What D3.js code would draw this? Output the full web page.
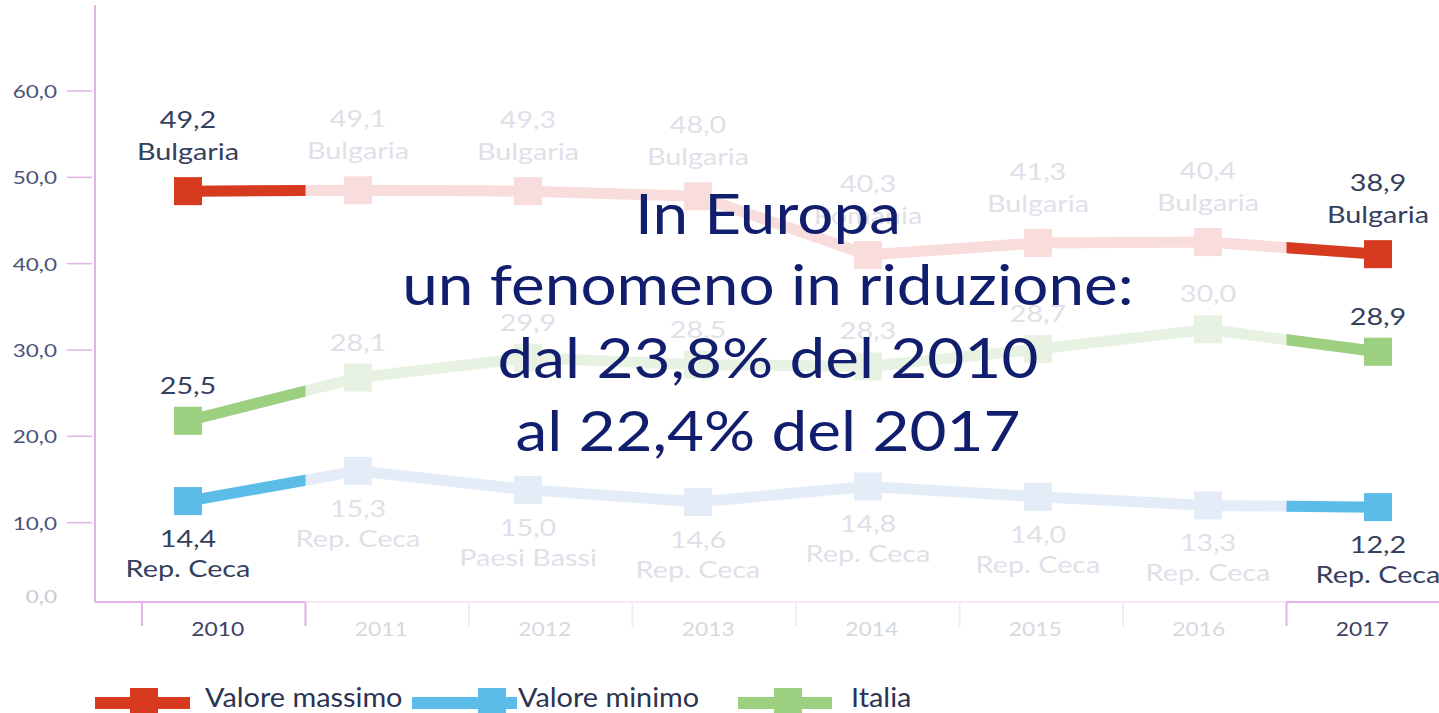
<!DOCTYPE html>
<html><head><meta charset="utf-8">
<script src="https://cdn.jsdelivr.net/npm/d3@7"></script>
<style>
html,body{margin:0;padding:0;background:#fff;}
svg{display:block;font-family:Lato,"Open Sans",sans-serif;}
</style></head>
<body>
<svg id="chart" width="1439" height="713"></svg>
<script>
const years = ['2010','2011','2012','2013','2014','2015','2016','2017'];
// values shown in labels
const maxValues = [49.2,49.1,49.3,48.0,40.3,41.3,40.4,38.9];
const maxCountries = ['Bulgaria','Bulgaria','Bulgaria','Bulgaria','Romania','Bulgaria','Bulgaria','Bulgaria'];
const minValues = [14.4,15.3,15.0,14.6,14.8,14.0,13.3,12.2];
const minCountries = ['Rep. Ceca','Rep. Ceca','Paesi Bassi','Rep. Ceca','Rep. Ceca','Rep. Ceca','Rep. Ceca','Rep. Ceca'];
const italyValues = [25.5,28.1,29.9,28.5,28.3,28.7,30.0,28.9];
// heights at which the marks are drawn in the picture
const maxPlot = [48.4,48.5,48.4,47.8,41.0,42.4,42.5,41.1];
const minPlot = [12.5,16.0,13.8,12.4,14.2,13.0,12.0,11.8];
const italyPlot = [21.8,26.8,29.1,28.3,28.1,30.1,32.4,29.8];
const yTicks = [0,10,20,30,40,50,60];
const highlightYears = ['2010','2017'];
const legendLabels = ['Valore massimo','Valore minimo','Italia'];
const titleLines = ['In Europa','un fenomeno in riduzione:','dal 23,8% del 2010','al 22,4% del 2017'];

const C = {
  red:'#d63a1f', redF:'#f9dcdc',
  blue:'#5bbce8', blueF:'#e3ecf7',
  green:'#9ccf80', greenF:'#e8f2e2',
  label:'#34405e', labelF:'#dfe0e8',
  axis:'#e4b1ea', axisF:'#f8e8f8',
  title:'#111d6d'
};

const it = d3.formatLocale({decimal:',',thousands:'.',grouping:[3],currency:['','€']});
const fmt = it.format('.1f');

const svg = d3.select('#chart');
const y = d3.scaleLinear().domain([0,60]).range([609,91]);
const xp = d3.scalePoint().domain(years).range([188,1378]);
const xb = d3.scaleBand().domain(years).range([142,1450]).padding(0);
const baseY = 602;
const axisX = 95;

// stretched text helper (the reference text is horizontally widened)
function stext(parent, x, yy, str, o){
  return parent.append('text')
    .attr('transform',`translate(${x},${yy}) scale(${o.sx||1},1)`)
    .attr('text-anchor',o.anchor||'middle')
    .attr('dominant-baseline','central')
    .attr('font-size',o.size).attr('fill',o.fill).text(str);
}

// y axis
svg.append('line').attr('x1',axisX).attr('x2',axisX).attr('y1',5).attr('y2',baseY)
  .attr('stroke',C.axis).attr('stroke-width',2);
const yt = svg.append('g');
yTicks.forEach(t=>{
  if(t>0) yt.append('line').attr('x1',67).attr('x2',92).attr('y1',y(t)).attr('y2',y(t))
    .attr('stroke',C.axis).attr('stroke-width',1.5);
  stext(yt, 57, t===0?596:y(t), fmt(t), {size:18, sx:1.25, anchor:'end', fill:t===0?'#c9cbd5':'#4b5373'});
});

// x axis
years.forEach(yr=>{
  const hi = highlightYears.includes(yr);
  const x0 = xb(yr), x1 = xb(yr)+xb.bandwidth();
  svg.append('line').attr('x1',x0).attr('x2',Math.min(x1,1439)).attr('y1',baseY).attr('y2',baseY)
    .attr('stroke',hi?C.axis:C.axisF).attr('stroke-width',2);
  svg.append('line').attr('x1',x0).attr('x2',x0).attr('y1',baseY).attr('y2',baseY+24)
    .attr('stroke',hi?C.axis:C.axisF).attr('stroke-width',2);
  stext(svg, x0+xb.bandwidth()/2-6, 628, yr, {size:19, sx:1.2, fill:hi?'#3a4262':'#d6d8e0'});
});
svg.append('line').attr('x1',axisX).attr('x2',xb('2010')).attr('y1',baseY).attr('y2',baseY)
  .attr('stroke',C.axis).attr('stroke-width',2);
svg.append('line').attr('x1',xb('2010')+xb.bandwidth()).attr('x2',xb('2010')+xb.bandwidth())
  .attr('y1',baseY).attr('y2',baseY+24).attr('stroke',C.axis).attr('stroke-width',2);

// clip for highlighted parts
const defs = svg.append('defs');
const cp = defs.append('clipPath').attr('id','hl');
cp.append('rect').attr('x',0).attr('y',0).attr('width',xb('2010')+xb.bandwidth()).attr('height',713);
cp.append('rect').attr('x',xb('2017')).attr('y',0).attr('width',400).attr('height',713);

const series = [
  {plot:maxPlot, vals:maxValues, names:maxCountries, col:C.red, fade:C.redF, pos:'above2'},
  {plot:italyPlot, vals:italyValues, names:null, col:C.green, fade:C.greenF, pos:'above1'},
  {plot:minPlot, vals:minValues, names:minCountries, col:C.blue, fade:C.blueF, pos:'below2'}
];
const line = d3.line().x((d,i)=>xp(years[i])).y(d=>y(d));
const SQ = 28, LW = 11;

// labels (drawn beneath the title)
const lab = svg.append('g');
series.forEach(s=>{
  years.forEach((yr,i)=>{
    const hi = highlightYears.includes(yr);
    const cx = xp(yr), cy = y(s.plot[i]);
    const fill = hi?C.label:C.labelF;
    let t1, t2;
    if(s.pos==='above2'){ t1 = cy-72; t2 = cy-40; }
    else if(s.pos==='above1'){ t1 = cy-36; }
    else { t1 = cy+37; t2 = cy+67; }
    stext(lab, cx, t1, fmt(s.vals[i]), {size:24, sx:1.2, fill});
    if(s.names) stext(lab, cx, t2, s.names[i], {size:24, sx:1.2, fill});
  });
});

// lines
series.forEach(s=>{
  svg.append('path').datum(s.plot).attr('d',line).attr('fill','none')
    .attr('stroke',s.fade).attr('stroke-width',LW);
  svg.selectAll(null).data(s.plot).enter().append('rect')
    .attr('x',(d,i)=>xp(years[i])-SQ/2).attr('y',d=>y(d)-SQ/2)
    .attr('width',SQ).attr('height',SQ).attr('fill',s.fade);
  svg.append('path').datum(s.plot).attr('d',line).attr('fill','none')
    .attr('stroke',s.col).attr('stroke-width',LW).attr('clip-path','url(#hl)');
  svg.selectAll(null).data(s.plot.map((d,i)=>({d,i})).filter(o=>highlightYears.includes(years[o.i])))
    .enter().append('rect')
    .attr('x',o=>xp(years[o.i])-SQ/2).attr('y',o=>y(o.d)-SQ/2)
    .attr('width',SQ).attr('height',SQ).attr('fill',s.col);
});

// title
const titleY = [212,283,356,429];
titleLines.forEach((l,i)=>{
  stext(svg, 768, titleY[i], l, {size:57, sx:1.12, fill:C.title});
});

// legend
const lg = svg.append('g');
const legendCols = [C.red,C.blue,C.green];
const legendBar = [[95,190],[412,517],[738,832]];
const legendSq = [130,478,774];
const textX = [205,518,851];
legendLabels.forEach((l,i)=>{
  const [a,b] = legendBar[i];
  lg.append('rect').attr('x',a).attr('y',697).attr('width',b-a).attr('height',12).attr('fill',legendCols[i]);
  lg.append('rect').attr('x',legendSq[i]).attr('y',688).attr('width',28).attr('height',30).attr('fill',legendCols[i]);
  stext(lg, textX[i], 697, l, {size:26, sx:1.11, anchor:'start', fill:'#2b3450'});
});
</script>
</body></html>
